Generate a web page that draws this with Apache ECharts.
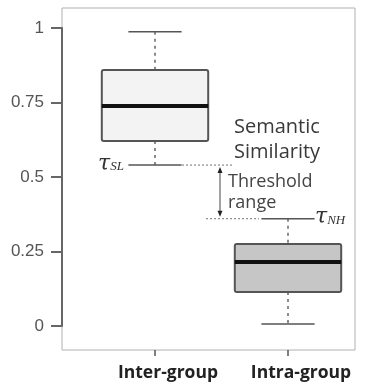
<!DOCTYPE html>
<html>
<head>
<meta charset="utf-8">
<script src="https://cdn.jsdelivr.net/npm/echarts@6/dist/echarts.min.js"></script>
<style>
  html, body { margin: 0; padding: 0; background: #fff; }
  #chart { width: 372px; height: 390px; }
</style>
</head>
<body>
<div id="chart"></div>
<script>
// data
var categories = ['Inter-group', 'Intra-group'];
var whiskerLow = [0.54, 0.007];
var q1 = [0.621, 0.114];
var median = [0.738, 0.215];
var q3 = [0.859, 0.275];
var whiskerHigh = [0.987, 0.36];
var tauSL = 0.54;
var tauNH = 0.36;

var boxData = categories.map(function (c, i) {
  return [i, whiskerLow[i], q1[i], median[i], q3[i], whiskerHigh[i]];
});

var myChart = echarts.init(document.getElementById('chart'));

function renderBox(params, api) {
  var x = api.value(0);
  var lo = api.coord([x, api.value(1)]);
  var b1 = api.coord([x, api.value(2)]);
  var md = api.coord([x, api.value(3)]);
  var b3 = api.coord([x, api.value(4)]);
  var hi = api.coord([x, api.value(5)]);
  var band = api.size([1, 0])[0];
  var w = band * 0.8;
  var cw = w / 2;
  var cx = lo[0];
  var fill = params.dataIndex === 0 ? '#f3f3f3' : '#c6c6c6';
  return {
    type: 'group',
    children: [
      { type: 'line', shape: { x1: cx, y1: hi[1], x2: cx, y2: b3[1] },
        style: { stroke: '#666', lineWidth: 1.5, lineDash: [3, 4] } },
      { type: 'line', shape: { x1: cx, y1: b1[1], x2: cx, y2: lo[1] },
        style: { stroke: '#666', lineWidth: 1.5, lineDash: [3, 4] } },
      { type: 'line', shape: { x1: cx - cw / 2, y1: hi[1], x2: cx + cw / 2, y2: hi[1] },
        style: { stroke: '#555', lineWidth: 1.5 } },
      { type: 'line', shape: { x1: cx - cw / 2, y1: lo[1], x2: cx + cw / 2, y2: lo[1] },
        style: { stroke: '#555', lineWidth: 1.5 } },
      { type: 'rect', shape: { x: cx - w / 2, y: b3[1], width: w, height: b1[1] - b3[1], r: 2 },
        style: { fill: fill, stroke: '#555', lineWidth: 2 } },
      { type: 'line', shape: { x1: cx - w / 2, y1: md[1], x2: cx + w / 2, y2: md[1] },
        style: { stroke: '#111', lineWidth: 4 } }
    ]
  };
}

var option = {
  animation: false,
  backgroundColor: '#fff',
  grid: [
    // visible value axis, spanning 0..1 only
    { left: 62, right: 17, top: 28, bottom: 64 },
    // plot frame with the category axis and the boxes
    { left: 88.5, right: 17.5, top: 8, bottom: 40 }
  ],
  xAxis: [
    { type: 'category', gridIndex: 0, show: false, data: categories },
    {
      type: 'category',
      gridIndex: 1,
      data: categories,
      axisLine: { show: false, onZero: false },
      axisTick: { show: true, alignWithLabel: true, length: 6, lineStyle: { color: '#555', width: 1.5 } },
      axisLabel: {
        margin: 14,
        padding: [0, 0, 0, 26],
        color: '#222',
        fontFamily: 'Open Sans',
        fontWeight: 'bold',
        fontSize: 17.5
      }
    }
  ],
  yAxis: [
    {
      type: 'value',
      gridIndex: 0,
      min: 0,
      max: 1,
      interval: 0.25,
      splitLine: { show: false },
      axisLine: { show: true, lineStyle: { color: '#666', width: 2 } },
      axisTick: { show: true, length: 11, lineStyle: { color: '#666', width: 2 } },
      axisLabel: { margin: 18, color: '#555', fontFamily: 'Liberation Sans', fontSize: 17 }
    },
    {
      type: 'value',
      gridIndex: 1,
      min: -24 / 298,
      max: 1 + 20 / 298,
      show: false,
      splitLine: { show: false }
    }
  ],
  series: [{
    type: 'custom',
    xAxisIndex: 1,
    yAxisIndex: 1,
    renderItem: renderBox,
    encode: { x: 0, y: [1, 2, 3, 4, 5] },
    data: boxData,
    z: 3
  }]
};
myChart.setOption(option);

// annotations placed from the axis scales
var pSL = myChart.convertToPixel({ seriesIndex: 0 }, [0, tauSL]);
var pNH = myChart.convertToPixel({ seriesIndex: 0 }, [1, tauNH]);
var arrowX = 220;
var dot = { stroke: '#777', lineWidth: 1, lineDash: [2, 2] };
var tauRich = {
  t: { fontFamily: 'DejaVu Serif', fontStyle: 'italic', fontSize: 22, fill: '#333' },
  s: { fontFamily: 'Liberation Serif', fontStyle: 'italic', fontSize: 13, fill: '#333', padding: [5, 0, 0, 0] }
};

myChart.setOption({
  graphic: [
    { type: 'rect', z: -1, shape: { x: 62, y: 8, width: 293, height: 342 },
      style: { fill: 'none', stroke: '#b0b0b0', lineWidth: 1 } },
    { type: 'line', shape: { x1: 182, y1: pSL[1], x2: 232, y2: pSL[1] }, style: dot },
    { type: 'line', shape: { x1: 206, y1: pNH[1], x2: 259, y2: pNH[1] }, style: dot },
    { type: 'line', shape: { x1: arrowX, y1: pSL[1] + 6, x2: arrowX, y2: pNH[1] - 6 },
      style: { stroke: '#444', lineWidth: 1 } },
    { type: 'polygon', shape: { points: [[arrowX, pSL[1] + 2], [arrowX - 2.5, pSL[1] + 8], [arrowX + 2.5, pSL[1] + 8]] },
      style: { fill: '#222' } },
    { type: 'polygon', shape: { points: [[arrowX, pNH[1] - 2], [arrowX - 2.5, pNH[1] - 8], [arrowX + 2.5, pNH[1] - 8]] },
      style: { fill: '#222' } },
    { type: 'text', x: 124, y: pSL[1] - 1, style: {
        text: '{t|τ}{s|SL}', align: 'right', verticalAlign: 'middle', rich: tauRich } },
    { type: 'text', x: 315, y: pNH[1] - 1, style: {
        text: '{t|τ}{s|NH}', align: 'left', verticalAlign: 'middle', rich: tauRich } },
    { type: 'text', x: 234, y: 140, style: {
        text: 'Semantic\nSimilarity', verticalAlign: 'middle', lineHeight: 25,
        fontFamily: 'Open Sans', fontSize: 20, fill: '#3a3a3a' } },
    { type: 'text', x: 228, y: 192, style: {
        text: 'Threshold\nrange', verticalAlign: 'middle', lineHeight: 21,
        fontFamily: 'Open Sans', fontSize: 18, fill: '#444' } }
  ]
});

window.addEventListener('resize', function () {
  myChart.resize();
});
</script>
</body>
</html>
